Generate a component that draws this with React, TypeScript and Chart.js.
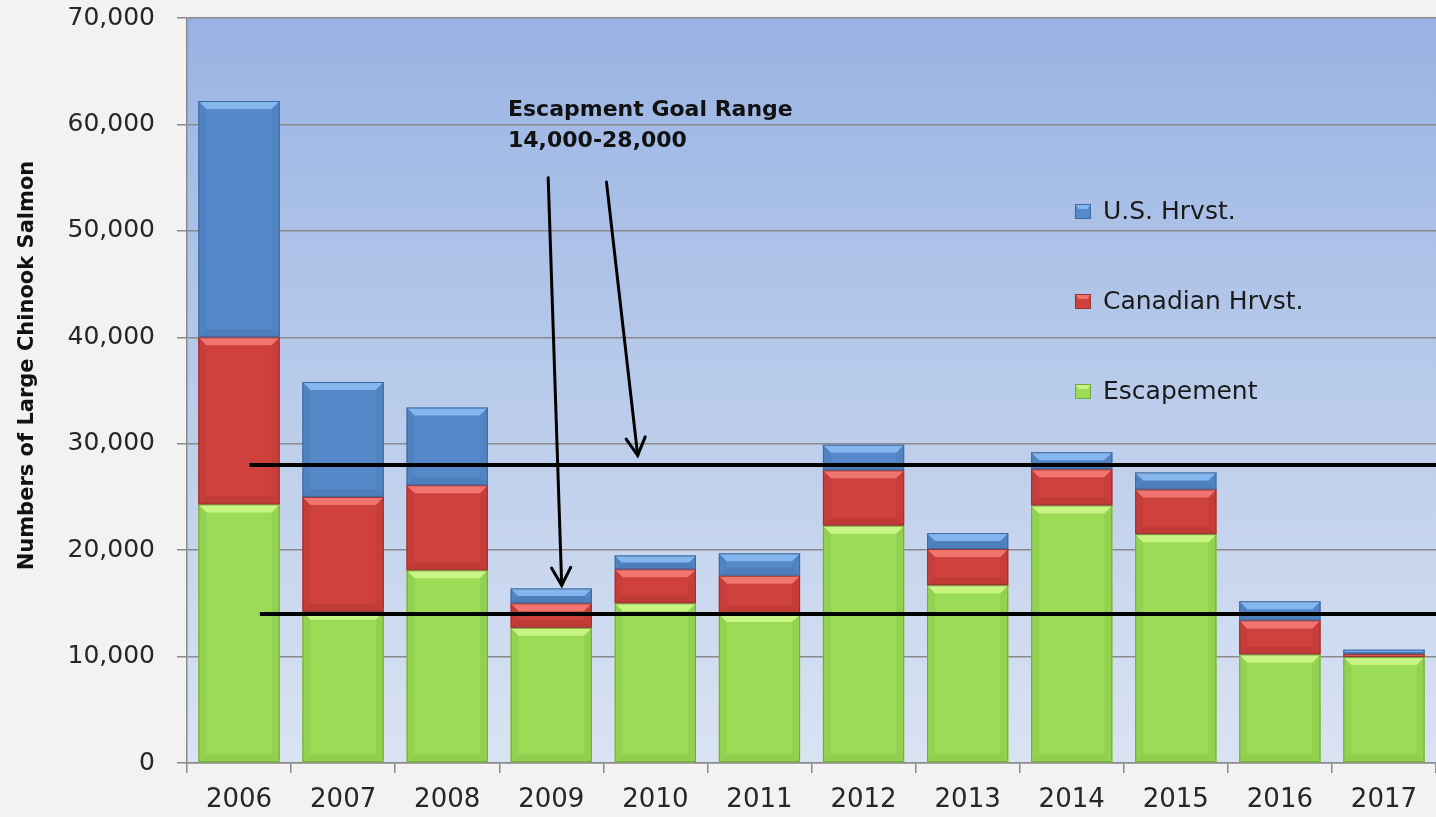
import React, { useEffect, useRef } from "react";
import { Chart, registerables } from "chart.js";

Chart.register(...registerables);

const categories = ["2006", "2007", "2008", "2009", "2010", "2011", "2012", "2013", "2014", "2015", "2016", "2017"];
const escapement = [24300, 14200, 18100, 12700, 15000, 14000, 22300, 16700, 24200, 21500, 10200, 9950];
const canadianHarvest = [15700, 10800, 8000, 2300, 3200, 3600, 5200, 3400, 3400, 4200, 3200, 300];
const usHarvest = [22200, 10800, 7300, 1400, 1300, 2100, 2400, 1500, 1600, 1600, 1800, 400];
const seriesNames = ["Escapement", "Canadian Hrvst.", "U.S. Hrvst."];
const yTicks = [0, 10000, 20000, 30000, 40000, 50000, 60000, 70000];
const goalRange = [14000, 28000];
const goalLabel = ["Escapment Goal Range", "14,000-28,000"];
const yTitle = "Numbers of Large Chinook Salmon";

const FONT = "'DejaVu Sans', sans-serif";

const palette = [
  { main: "#9bdb55", light: "#c9f584", dark: "#76b23c", side: "#93d250", border: "#74a840" },
  { main: "#cf413d", light: "#f07570", dark: "#9e2b29", side: "#c63d39", border: "#963331" },
  { main: "#5589c9", light: "#86b6ee", dark: "#3e6aa3", side: "#5083c2", border: "#41679a" },
];

const bevelPlugin = {
  id: "bevel",
  afterDatasetsDraw(chart: any) {
    const ctx = chart.ctx;
    const area = chart.chartArea;
    ctx.save();
    ctx.beginPath();
    ctx.rect(area.left, area.top, area.right - area.left, area.bottom - area.top);
    ctx.clip();
    chart.data.datasets.forEach((ds: any, di: number) => {
      const meta = chart.getDatasetMeta(di);
      const col = palette[di];
      meta.data.forEach((el: any) => {
        const p = el.getProps(["x", "y", "base", "width"], true);
        const l = p.x - p.width / 2;
        const r = p.x + p.width / 2;
        const t = Math.min(p.y, p.base);
        const b = Math.max(p.y, p.base);
        const h = b - t;
        if (h < 1) return;
        const bv = Math.min(8, h / 2);
        ctx.fillStyle = col.side;
        ctx.beginPath();
        ctx.moveTo(l, t); ctx.lineTo(l + bv, t + bv); ctx.lineTo(l + bv, b - bv); ctx.lineTo(l, b); ctx.closePath(); ctx.fill();
        ctx.beginPath();
        ctx.moveTo(r, t); ctx.lineTo(r - bv, t + bv); ctx.lineTo(r - bv, b - bv); ctx.lineTo(r, b); ctx.closePath(); ctx.fill();
        ctx.fillStyle = col.dark;
        ctx.globalAlpha = 0.3;
        ctx.beginPath();
        ctx.moveTo(l, b); ctx.lineTo(r, b); ctx.lineTo(r - bv, b - bv); ctx.lineTo(l + bv, b - bv); ctx.closePath(); ctx.fill();
        ctx.globalAlpha = 1;
        ctx.fillStyle = col.light;
        ctx.beginPath();
        ctx.moveTo(l, t); ctx.lineTo(r, t); ctx.lineTo(r - bv, t + bv); ctx.lineTo(l + bv, t + bv); ctx.closePath(); ctx.fill();
        ctx.strokeStyle = col.border;
        ctx.lineWidth = 1;
        ctx.strokeRect(l + 0.5, t + 0.5, p.width - 1, h - 1);
      });
    });
    ctx.restore();
  },
};

function drawArrow(ctx: CanvasRenderingContext2D, x1: number, y1: number, x2: number, y2: number) {
  ctx.beginPath();
  ctx.moveTo(x1, y1);
  ctx.lineTo(x2, y2);
  ctx.stroke();
  const a = Math.atan2(y2 - y1, x2 - x1);
  const len = 20;
  const spread = 0.5;
  ctx.beginPath();
  ctx.moveTo(x2 - len * Math.cos(a - spread), y2 - len * Math.sin(a - spread));
  ctx.lineTo(x2, y2);
  ctx.lineTo(x2 - len * Math.cos(a + spread), y2 - len * Math.sin(a + spread));
  ctx.stroke();
}

// arrows given in (category index, value) space
const arrowFrom = [[2.97, 55000], [3.53, 54600]];
const arrowTo = [[3.1, 16700], [3.83, 28900]];
const goalStartIndex = [0.2, 0.1];

const decorPlugin = {
  id: "decor",
  beforeDraw(chart: any) {
    const ctx = chart.ctx;
    const a = chart.chartArea;
    ctx.save();
    ctx.fillStyle = "#f2f2f2";
    ctx.fillRect(0, 0, chart.width, chart.height);
    const g = ctx.createLinearGradient(0, a.top, 0, a.bottom);
    g.addColorStop(0, "#98b3e3");
    g.addColorStop(1, "#dae3f2");
    ctx.fillStyle = g;
    ctx.fillRect(a.left, a.top, a.right - a.left, a.bottom - a.top);
    ctx.restore();
  },
  afterDatasetsDraw(chart: any) {
    const ctx = chart.ctx;
    const a = chart.chartArea;
    const ys = chart.scales.y;
    const n = categories.length;
    const cw = (a.right - a.left) / n;
    const px = (idx: number) => a.left + (idx + 0.5) * cw;
    ctx.save();
    ctx.strokeStyle = "#000";
    ctx.lineWidth = 4;
    goalRange.forEach((v, i) => {
      const y = ys.getPixelForValue(v);
      ctx.beginPath();
      ctx.moveTo(px(goalStartIndex[i]), y);
      ctx.lineTo(a.right, y);
      ctx.stroke();
    });
    ctx.lineWidth = 3;
    ctx.lineCap = "round";
    arrowFrom.forEach((f, i) => {
      const t = arrowTo[i];
      drawArrow(ctx, px(f[0]), ys.getPixelForValue(f[1]), px(t[0]), ys.getPixelForValue(t[1]));
    });
    ctx.restore();
  },
  afterDraw(chart: any) {
    const ctx = chart.ctx;
    const a = chart.chartArea;
    ctx.save();
    ctx.fillStyle = "#111";
    ctx.font = `bold 22px ${FONT}`;
    ctx.textBaseline = "alphabetic";
    ctx.textAlign = "left";
    ctx.fillText(goalLabel[0], a.left + 321, 116);
    ctx.fillText(goalLabel[1], a.left + 321, 147);
    const order = [2, 1, 0];
    ctx.font = `25px ${FONT}`;
    ctx.textBaseline = "middle";
    order.forEach((di, row) => {
      const y = a.top + 193 + row * 90;
      const x = a.left + 888;
      const c = palette[di];
      ctx.fillStyle = c.main;
      ctx.fillRect(x, y - 7, 16, 15);
      ctx.fillStyle = c.light;
      ctx.beginPath();
      ctx.moveTo(x, y - 7); ctx.lineTo(x + 16, y - 7); ctx.lineTo(x + 12, y - 2); ctx.lineTo(x + 4, y - 2); ctx.closePath(); ctx.fill();
      ctx.strokeStyle = c.border;
      ctx.lineWidth = 1;
      ctx.strokeRect(x + 0.5, y - 6.5, 15, 14);
      ctx.fillStyle = "#1a1a1a";
      ctx.fillText(chart.data.datasets[di].label, x + 28, y + 1);
    });
    ctx.translate(28, (a.top + a.bottom) / 2 - 25);
    ctx.rotate(-Math.PI / 2);
    ctx.textAlign = "center";
    ctx.textBaseline = "middle";
    ctx.font = `bold 21px ${FONT}`;
    ctx.fillStyle = "#111";
    ctx.fillText(yTitle, 0, 0);
    ctx.restore();
  },
};

export default function App() {
  const ref = useRef<HTMLCanvasElement>(null);
  useEffect(() => {
    if (!ref.current) return;
    const series = [escapement, canadianHarvest, usHarvest];
    const chart = new Chart(ref.current, {
      type: "bar",
      data: {
        labels: categories,
        datasets: series.map((d, i) => ({
          label: seriesNames[i],
          data: d,
          backgroundColor: palette[i].main,
          borderWidth: 0,
          barPercentage: 0.78,
          categoryPercentage: 1,
        })),
      },
      options: {
        animation: false,
        responsive: false,
        layout: { padding: { top: 18, right: 0, left: 0, bottom: 0 } },
        plugins: { legend: { display: false }, tooltip: { enabled: false } },
        scales: {
          x: {
            stacked: true,
            offset: true,
            grid: { display: true, drawOnChartArea: false, drawTicks: true, tickLength: 10, color: "#8a8a8a", lineWidth: 1.5, offset: true },
            border: { display: true, color: "#8a8a8a", width: 1.5 },
            ticks: { color: "#262626", font: { family: FONT, size: 26 }, padding: 12, maxRotation: 0 },
            afterFit: (s: any) => { s.height = 54; s.paddingLeft = 0; s.paddingRight = 0; },
          },
          y: {
            stacked: true,
            min: yTicks[0],
            max: yTicks[yTicks.length - 1],
            afterBuildTicks: (s: any) => { s.ticks = yTicks.map((v) => ({ value: v })); },
            grid: { color: "#8a8a8a", lineWidth: 1.5, tickLength: 10 },
            border: { display: true, color: "#8a8a8a", width: 1.5 },
            ticks: {
              color: "#262626",
              font: { family: FONT, size: 25 },
              padding: 22,
              callback: (v: any) => Number(v).toLocaleString("en-US"),
            },
            afterFit: (s: any) => { s.width = 187; s.paddingTop = 0; s.paddingBottom = 0; },
          },
        },
      },
      plugins: [bevelPlugin, decorPlugin],
    });
    return () => chart.destroy();
  }, []);
  return (
    <div style={{ position: "absolute", left: 0, top: 0, width: 1436, height: 817 }}>
      <canvas ref={ref} width={1436} height={817} style={{ display: "block", width: 1436, height: 817 }} />
    </div>
  );
}
